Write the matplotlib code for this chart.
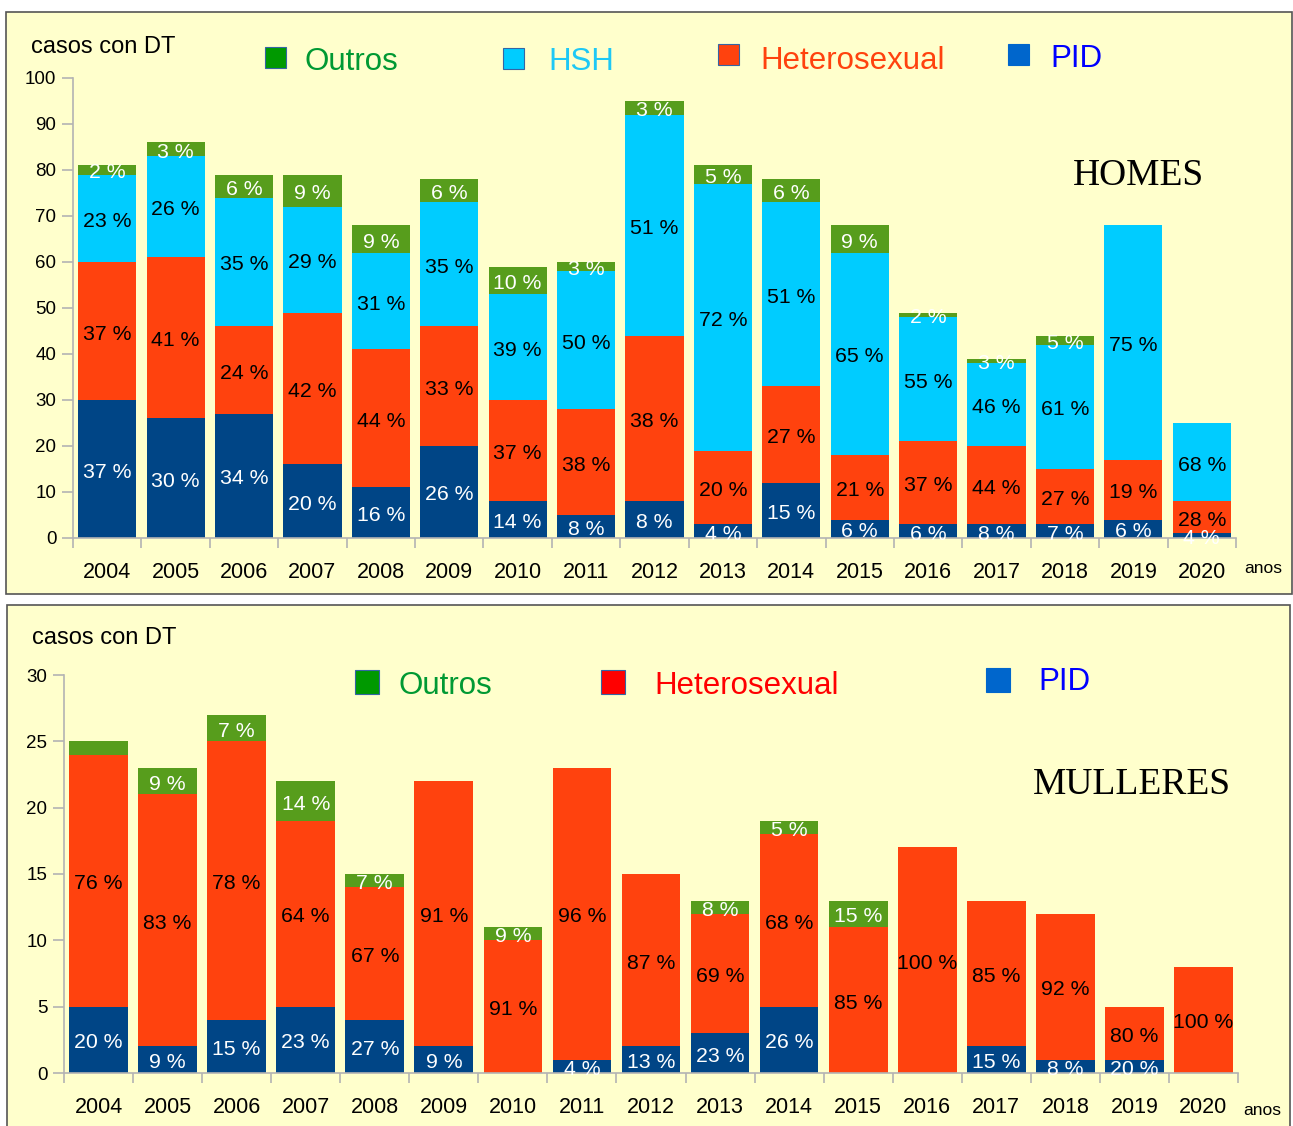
import matplotlib
matplotlib.use("Agg")
import matplotlib.pyplot as plt
from matplotlib.patches import Rectangle
from matplotlib.transforms import offset_copy

plt.rcParams["font.family"] = ["Liberation Sans", "DejaVu Sans"]

years = [str(y) for y in range(2004, 2021)]

# men: cases by transmission route
homes_pid = [30, 26, 27, 16, 11, 20, 8, 5, 8, 3, 12, 4, 3, 3, 3, 4, 1]
homes_het = [30, 35, 19, 33, 30, 26, 22, 23, 36, 16, 21, 14, 18, 17, 12, 13, 7]
homes_hsh = [19, 22, 28, 23, 21, 27, 23, 30, 48, 58, 40, 44, 27, 18, 27, 51, 17]
homes_outros = [2, 3, 5, 7, 6, 5, 6, 2, 3, 4, 5, 6, 1, 1, 2, 0, 0]

# women
mulleres_pid = [5, 2, 4, 5, 4, 2, 0, 1, 2, 3, 5, 0, 0, 2, 1, 1, 0]
mulleres_het = [19, 19, 21, 14, 10, 20, 10, 22, 13, 9, 13, 11, 17, 11, 11, 4, 8]
mulleres_outros = [1, 2, 2, 3, 1, 0, 1, 0, 0, 1, 1, 2, 0, 0, 0, 0, 0]

C_PID = "#004586"
C_HET = "#FF420E"
C_HSH = "#00CCFF"
C_OUT = "#579D1C"
AXIS = "#b3b3b3"
BG = "#FFFFCC"

W, H = 1293, 1126
fig = plt.figure(figsize=(W / 100, H / 100), dpi=100)


def fx(x):
    return x / W


def fy(y):
    return 1 - y / H


def panel(x0, y0, x1, y1):
    fig.patches.append(Rectangle((fx(x0), fy(y1)), (x1 - x0) / W, (y1 - y0) / H,
                                 transform=fig.transFigure, facecolor=BG,
                                 edgecolor="#555555", lw=1.2, zorder=-10))


def legend_item(sx, sy, size, fill, text, tx, ty, tcolor, edge="#3465a4"):
    fig.patches.append(Rectangle((fx(sx), fy(sy + size)), size / W, size / H,
                                 transform=fig.transFigure, facecolor=fill,
                                 edgecolor=edge, lw=0.8, zorder=2))
    fig.text(fx(tx), fy(ty), text, color=tcolor, fontsize=22.5, va="baseline", ha="left")


def stacked(ax, series, ymax, ystep, skip=()):
    x = list(range(len(years)))
    totals = [sum(vals[i] for _, vals, _, _ in series) for i in x]
    bottom = [0] * len(x)
    label_tr = offset_copy(ax.transData, fig=fig, y=-3, units="dots")
    for name, vals, color, tcolor in series:
        ax.bar(x, vals, width=0.85, bottom=bottom, color=color, zorder=2)
        for i, v in enumerate(vals):
            if v == 0 or (name, i) in skip:
                continue
            pct = int(v * 100 / totals[i] + 0.5)
            ax.text(i, bottom[i] + v / 2, f"{pct} %", ha="center", va="center",
                    color=tcolor, fontsize=15.3, zorder=3, transform=label_tr)
        bottom = [b + v for b, v in zip(bottom, vals)]

    ax.set_facecolor("none")
    ax.set_xlim(-0.5, len(years) - 0.5)
    ax.set_ylim(0, ymax)
    ax.set_yticks(range(0, ymax + 1, ystep))
    ax.set_xticks([i - 0.5 for i in range(len(years) + 1)])
    ax.set_xticklabels([])
    ax.set_xticks(x, minor=True)
    ax.set_xticklabels(years, minor=True, fontsize=15.5)
    ax.tick_params(axis="x", which="major", length=7.5, color=AXIS, width=1.2)
    ax.tick_params(axis="x", which="minor", length=0)
    ax.tick_params(axis="y", length=8, color=AXIS, width=1.2, labelsize=13.5, pad=4)
    for s in ("top", "right"):
        ax.spines[s].set_visible(False)
    for s in ("left", "bottom"):
        ax.spines[s].set_color(AXIS)
        ax.spines[s].set_linewidth(1.2)


# ---- HOMES ----
panel(6, 12, 1292, 594)
ax1 = fig.add_axes([fx(73), fy(538), (1236 - 73) / W, (538 - 78) / H])
stacked(ax1, [("PID", homes_pid, C_PID, "white"),
              ("Heterosexual", homes_het, C_HET, "black"),
              ("HSH", homes_hsh, C_HSH, "black"),
              ("Outros", homes_outros, C_OUT, "white")], 100, 10)
ax1.tick_params(axis="x", which="minor", pad=17.5)

fig.text(fx(31), fy(53), "casos con DT", fontsize=17, va="baseline")
fig.text(fx(1244), fy(573), "anos", fontsize=12.5, va="baseline")
fig.text(fx(1073), fy(185), "HOMES", fontsize=27, va="baseline",
         family=["Liberation Serif", "DejaVu Serif"])

legend_item(265, 47, 21, "#009900", "Outros", 305, 70, "#009933")
legend_item(503, 48, 21, C_HSH, "HSH", 548, 70, "#1EC8F5")
legend_item(718, 44, 21, C_HET, "Heterosexual", 760, 69, C_HET)
legend_item(1008, 44, 21, "#0066CC", "PID", 1050, 67, "#0000FF", edge="#0066CC")

# ---- MULLERES ----
panel(7, 605, 1290, 1135)
ax2 = fig.add_axes([fx(64), fy(1073), (1238 - 64) / W, (1073 - 675) / H])
stacked(ax2, [("PID", mulleres_pid, C_PID, "white"),
              ("Heterosexual", mulleres_het, C_HET, "black"),
              ("Outros", mulleres_outros, C_OUT, "white")], 30, 5,
        skip={("Outros", 0)})
ax2.tick_params(axis="x", which="minor", pad=17)

fig.text(fx(32), fy(644), "casos con DT", fontsize=17, va="baseline")
fig.text(fx(1243), fy(1115), "anos", fontsize=12.5, va="baseline")
fig.text(fx(1033), fy(794), "MULLERES", fontsize=27, va="baseline",
         family=["Liberation Serif", "DejaVu Serif"])

legend_item(355, 670, 24, "#009900", "Outros", 399, 694, "#009933")
legend_item(601, 670, 24, "#FF0000", "Heterosexual", 654, 694, "#FF0000")
legend_item(986, 668, 24, "#0066CC", "PID", 1038, 690, "#0000FF", edge="#0066CC")

fig.savefig("out.png", dpi=100, facecolor="white")
